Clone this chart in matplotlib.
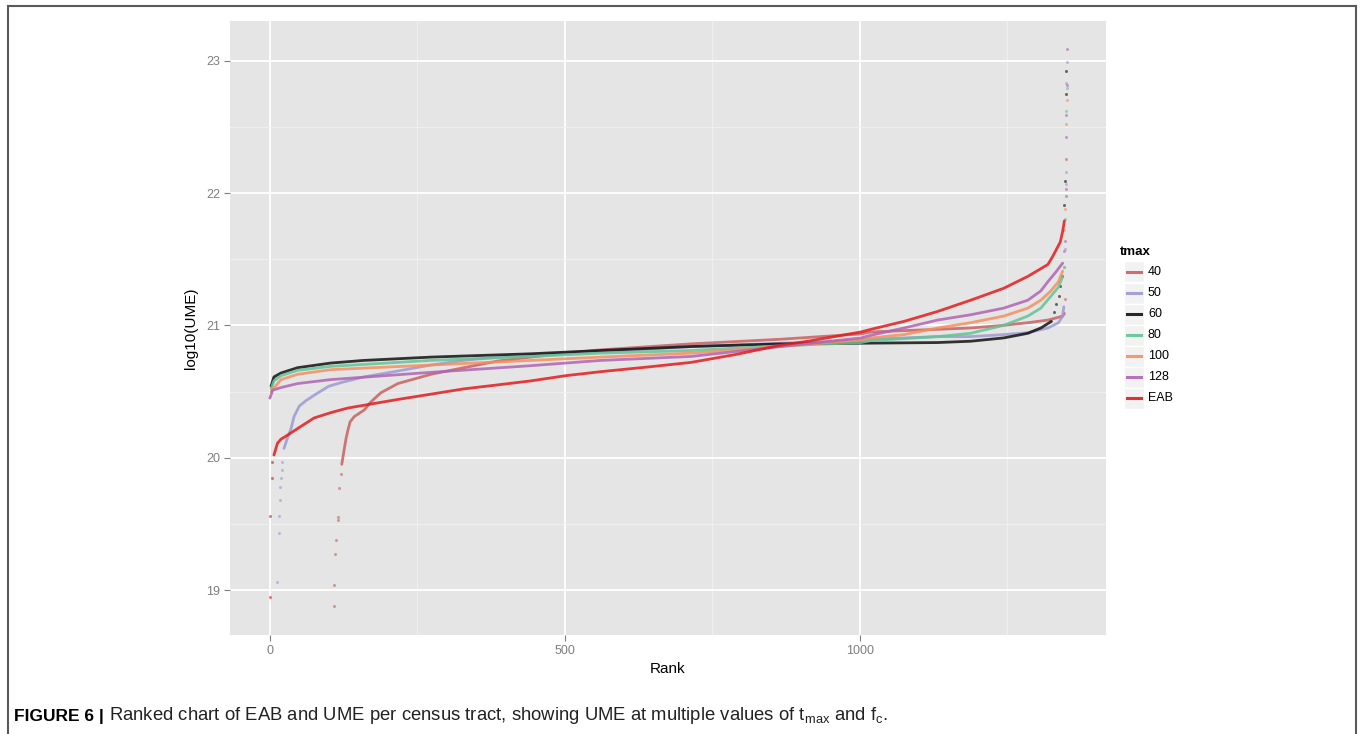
import numpy as np
import matplotlib
matplotlib.use('Agg')
import matplotlib.pyplot as plt
from matplotlib.lines import Line2D
from matplotlib.patches import Rectangle

plt.rcParams['font.family'] = ['Liberation Sans', 'DejaVu Sans']
plt.rcParams['mathtext.fontset'] = 'custom'
plt.rcParams['mathtext.rm'] = 'Liberation Sans'
plt.rcParams['mathtext.it'] = 'Liberation Sans:italic'

# --- values: rank vs log10(UME) ---
# *_rank / *_val         : dense part of each ranked curve
# *_dot_rank / *_dot_val : isolated points in the tails

u40_dot_rank = [108, 109, 110, 112, 115, 116, 117, 120, 1348, 1349]
u40_dot_val = [18.88, 19.04, 19.27, 19.38, 19.53, 19.55, 19.77, 19.88, 21.20, 22.26]
u40_rank = [122, 126, 129, 132, 136, 143, 160, 171, 188, 217, 273, 329, 386, 442, 502,
            561, 714, 866, 1002, 1019, 1132, 1188, 1244, 1285, 1319, 1332, 1344, 1347]
u40_val = [19.95, 20.06, 20.14, 20.20, 20.27, 20.31, 20.36, 20.42, 20.49, 20.56, 20.63,
           20.68, 20.73, 20.76, 20.79, 20.815, 20.86, 20.895, 20.935, 20.95, 20.97, 20.98,
           21.00, 21.02, 21.04, 21.055, 21.07, 21.09]

u50_dot_rank = [13, 15, 16, 17, 18, 19, 20, 21, 1347, 1348, 1349, 1349, 1350, 1350, 1351]
u50_dot_val = [19.06, 19.43, 19.56, 19.68, 19.78, 19.85, 19.91, 19.97,
               21.44, 21.58, 21.98, 22.07, 22.16, 22.83, 22.99]
u50_rank = [24, 30, 36, 41, 50, 61, 78, 100, 123, 159, 217, 273, 329, 386, 442, 561, 714,
            866, 1002, 1019, 1132, 1188, 1244, 1285, 1319, 1337, 1344, 1346]
u50_val = [20.07, 20.15, 20.22, 20.31, 20.39, 20.43, 20.48, 20.54, 20.57, 20.61, 20.655,
           20.70, 20.735, 20.76, 20.775, 20.80, 20.84, 20.865, 20.885, 20.895, 20.915,
           20.915, 20.93, 20.945, 20.98, 21.02, 21.07, 21.14]

u60_dot_rank = [1329, 1333, 1337, 1340, 1343, 1347, 1348, 1349, 1350]
u60_dot_val = [21.10, 21.16, 21.22, 21.30, 21.37, 21.91, 22.09, 22.75, 22.92]
u60_rank = [2, 7, 19, 47, 103, 159, 273, 442, 561, 714, 866, 1002, 1132, 1188, 1244,
            1285, 1307, 1325]
u60_val = [20.54, 20.61, 20.64, 20.68, 20.715, 20.735, 20.76, 20.785, 20.81, 20.84, 20.86,
           20.865, 20.87, 20.88, 20.905, 20.94, 20.98, 21.03]

u80_dot_rank = [1346, 1348, 1349, 1350, 1351]
u80_dot_val = [21.44, 21.80, 21.98, 22.62, 22.79]
u80_rank = [2, 7, 19, 47, 103, 273, 442, 561, 714, 866, 1002, 1019, 1132, 1188, 1244,
            1285, 1307, 1324, 1337, 1344]
u80_val = [20.52, 20.58, 20.62, 20.66, 20.69, 20.735, 20.765, 20.79, 20.81, 20.845, 20.87,
           20.885, 20.915, 20.94, 21.00, 21.07, 21.13, 21.22, 21.29, 21.37]

u100_dot_rank = [1347, 1348, 1350, 1351]
u100_dot_val = [21.72, 21.88, 22.52, 22.70]
u100_rank = [2, 19, 47, 103, 273, 442, 561, 714, 866, 1002, 1019, 1075, 1132, 1188, 1244,
             1285, 1307, 1324, 1337, 1344]
u100_val = [20.50, 20.59, 20.63, 20.665, 20.70, 20.735, 20.76, 20.79, 20.84, 20.89, 20.905,
            20.93, 20.98, 21.02, 21.07, 21.13, 21.19, 21.26, 21.33, 21.41]

u128_dot_rank = [1347, 1348, 1349, 1350, 1350, 1351, 1352]
u128_dot_val = [21.56, 21.64, 22.03, 22.42, 22.59, 22.82, 23.09]
u128_rank = [0, 5, 19, 47, 103, 273, 442, 561, 714, 866, 1002, 1019, 1075, 1132, 1188,
             1244, 1285, 1307, 1319, 1332, 1344]
u128_val = [20.45, 20.51, 20.53, 20.56, 20.59, 20.645, 20.695, 20.735, 20.765, 20.84, 20.905,
            20.925, 20.98, 21.04, 21.08, 21.13, 21.19, 21.26, 21.33, 21.40, 21.47]

eab_dot_rank = [0, 1, 3, 4]
eab_dot_val = [18.95, 19.56, 19.85, 19.97]
eab_rank = [7, 13, 19, 30, 47, 75, 103, 132, 171, 217, 273, 329, 386, 442, 502, 561, 640,
            714, 790, 866, 912, 1002, 1019, 1075, 1132, 1188, 1244, 1285, 1319, 1327, 1340,
            1344, 1347]
eab_val = [20.02, 20.11, 20.14, 20.17, 20.22, 20.30, 20.34, 20.375, 20.405, 20.44, 20.48,
           20.52, 20.55, 20.58, 20.62, 20.65, 20.685, 20.72, 20.78, 20.85, 20.88, 20.95,
           20.97, 21.03, 21.105, 21.19, 21.28, 21.37, 21.46, 21.52, 21.63, 21.71, 21.79]

labels = ['40', '50', '60', '80', '100', '128', 'EAB']
colors = ['#C96060', '#9C9AD2', '#111111', '#62C495', '#F68E5F', '#B064B4', '#E41A1C']

series = [
    (u40_rank, u40_val, u40_dot_rank, u40_dot_val),
    (u50_rank, u50_val, u50_dot_rank, u50_dot_val),
    (u60_rank, u60_val, u60_dot_rank, u60_dot_val),
    (u80_rank, u80_val, u80_dot_rank, u80_dot_val),
    (u100_rank, u100_val, u100_dot_rank, u100_dot_val),
    (u128_rank, u128_val, u128_dot_rank, u128_dot_val),
    (eab_rank, eab_val, eab_dot_rank, eab_dot_val),
]

fig = plt.figure(figsize=(13.6, 7.34), dpi=100)
W, H = 1360, 734
ax = fig.add_axes([230 / W, 1 - 635 / H, 876 / W, 614 / H])
ax.set_facecolor('#E5E5E5')

for (r, v, dr, dv), c in zip(series, colors):
    ax.plot(r, v, '-', color=c, lw=2.0, alpha=0.85, solid_capstyle='round', zorder=3)
    ax.plot(dr, dv, 'o', color=c, ms=2.2, mew=0, alpha=0.6, zorder=3)

ax.set_xticks([0, 500, 1000])
ax.set_xticks([250, 750, 1250], minor=True)
ax.set_yticks([19, 20, 21, 22, 23])
ax.set_yticks([19.5, 20.5, 21.5, 22.5], minor=True)
ax.set_xlim(-67.5, 1417.5)
ax.set_ylim(18.66, 23.30)
ax.grid(which='major', color='white', lw=1.3, zorder=0)
ax.grid(which='minor', color='#F2F2F2', lw=0.6, zorder=0)
ax.set_axisbelow(True)
for s in ax.spines.values():
    s.set_visible(False)
ax.tick_params(which='major', length=4, width=0.8, color='#7F7F7F',
               labelcolor='#7F7F7F', labelsize=9, pad=3)
ax.tick_params(which='minor', length=0)
ax.set_xlabel('Rank', fontsize=11, labelpad=4)
ax.set_ylabel('log10(UME)', fontsize=11, labelpad=6)

# legend drawn by hand to get ggplot-style grey key boxes
fig.text(1120 / W, 1 - 252 / H, 'tmax', fontsize=9.5, fontweight='bold', va='center')
for i, (lab, c) in enumerate(zip(labels, colors)):
    yc = 272 + 21 * i
    fig.patches.append(Rectangle((1124 / W, 1 - (yc + 10.5) / H), 20 / W, 21 / H,
                                 transform=fig.transFigure, facecolor='#F2F2F2',
                                 edgecolor='white', lw=1))
    fig.lines.append(Line2D([1127 / W, 1141 / W], [1 - yc / H, 1 - yc / H],
                            transform=fig.transFigure, color=c, lw=2.2, alpha=0.9))
    fig.text(1148 / W, 1 - yc / H, lab, fontsize=9, va='center')

# caption
t1 = fig.text(14 / W, 1 - 716 / H, 'FIGURE 6 |', fontsize=12.5, fontweight='bold', va='center')
fig.canvas.draw()
bb = t1.get_window_extent()
fig.text((bb.x1 + 5) / W, 1 - 716 / H,
         r'Ranked chart of EAB and UME per census tract, showing UME at multiple values of '
         r'$\mathregular{t_{max}}$ and $\mathregular{f_c}$.',
         fontsize=13.3, va='center', color='#222222')

# outer frame around figure block
fc = '#5A5A5A'
fig.lines.append(Line2D([8 / W, 8 / W], [0, 1 - 6 / H], transform=fig.transFigure, color=fc, lw=1.5))
fig.lines.append(Line2D([1356 / W, 1356 / W], [0, 1 - 6 / H], transform=fig.transFigure, color=fc, lw=1.5))
fig.lines.append(Line2D([8 / W, 1356 / W], [1 - 6 / H, 1 - 6 / H], transform=fig.transFigure, color=fc, lw=1.5))

fig.savefig('out.png', dpi=100)
